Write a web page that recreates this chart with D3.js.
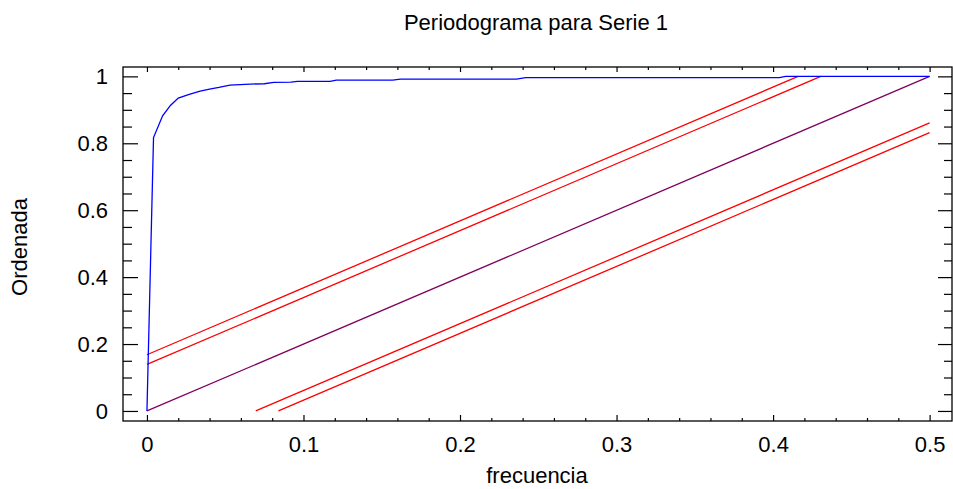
<!DOCTYPE html>
<html>
<head>
<meta charset="utf-8">
<script src="https://cdn.jsdelivr.net/npm/d3@7"></script>
<style>
  body { margin: 0; background: #fff; }
  text { font-family: "Liberation Sans", Arial, sans-serif; fill: #000; }
  .axis .domain { display: none; }
  .axis line { stroke: #000; stroke-width: 1.2; }
</style>
</head>
<body>
<div id="viz"></div>
<script>
var width = 953, height = 489;
var margin = {top: 67, right: 1, bottom: 68, left: 123};

// cumulative periodogram (frecuencia, ordenada)
var freq = [0, 0.0042, 0.010, 0.015, 0.020, 0.027, 0.034, 0.040, 0.046, 0.053, 0.066, 0.075,
            0.081, 0.092, 0.096, 0.117, 0.121, 0.157, 0.162, 0.236, 0.242, 0.404, 0.408, 0.5];
var ordenada = [0, 0.817, 0.882, 0.913, 0.935, 0.946, 0.956, 0.962, 0.967, 0.974, 0.977, 0.978,
                0.982, 0.983, 0.985, 0.985, 0.989, 0.989, 0.992, 0.992, 0.996, 0.996, 1, 1];

// reference diagonal
var diagX = [0, 0.5], diagY = [0, 1];

// Kolmogorov bounds (two levels, upper and lower)
var boundsX = [[0, 0.416], [0, 0.4305], [0.0695, 0.5], [0.084, 0.5]];
var boundsY = [[0.168, 1], [0.139, 1], [0, 0.861], [0, 0.832]];

var xMajor = [0, 0.1, 0.2, 0.3, 0.4, 0.5];
var yMajor = [0, 0.2, 0.4, 0.6, 0.8, 1];

var x = d3.scaleLinear()
  .domain([-0.0153, 0.5143])
  .range([margin.left, width - margin.right]);

var y = d3.scaleLinear()
  .domain([-0.030, 1.028])
  .range([height - margin.bottom, margin.top]);

var xMinor = d3.range(0, 0.5001, 0.02).filter(v => Math.abs(v * 10 - Math.round(v * 10)) > 1e-6);
var yMinor = d3.range(0, 1.0001, 0.05).filter(v => Math.abs(v * 5 - Math.round(v * 5)) > 1e-6);

var svg = d3.select('#viz').append('svg')
  .attr('width', width)
  .attr('height', height);

var fmt = d => d === 0 || d === 1 ? String(d) : d3.format('.1f')(d);

// bottom
svg.append('g').attr('class', 'axis')
  .attr('transform', `translate(0,${height - margin.bottom})`)
  .call(d3.axisBottom(x).tickValues(xMajor).tickSizeInner(-6).tickSizeOuter(0).tickPadding(15).tickFormat(fmt))
  .call(g => g.selectAll('text').attr('font-size', 22).attr('font-family', null));
svg.append('g').attr('class', 'axis')
  .attr('transform', `translate(0,${height - margin.bottom})`)
  .call(d3.axisBottom(x).tickValues(xMinor).tickSizeInner(-3).tickSizeOuter(0).tickFormat(''));

// top
svg.append('g').attr('class', 'axis')
  .attr('transform', `translate(0,${margin.top})`)
  .call(d3.axisTop(x).tickValues(xMajor).tickSizeInner(-5).tickSizeOuter(0).tickFormat(''));
svg.append('g').attr('class', 'axis')
  .attr('transform', `translate(0,${margin.top})`)
  .call(d3.axisTop(x).tickValues(xMinor).tickSizeInner(-3).tickSizeOuter(0).tickFormat(''));

// left
svg.append('g').attr('class', 'axis')
  .attr('transform', `translate(${margin.left},0)`)
  .call(d3.axisLeft(y).tickValues(yMajor).tickSizeInner(-15).tickSizeOuter(0).tickPadding(15).tickFormat(fmt))
  .call(g => g.selectAll('text').attr('font-size', 22).attr('font-family', null));
svg.append('g').attr('class', 'axis')
  .attr('transform', `translate(${margin.left},0)`)
  .call(d3.axisLeft(y).tickValues(yMinor).tickSizeInner(-9).tickSizeOuter(0).tickFormat(''));

// right
svg.append('g').attr('class', 'axis')
  .attr('transform', `translate(${width - margin.right},0)`)
  .call(d3.axisRight(y).tickValues(yMajor).tickSizeInner(-14).tickSizeOuter(0).tickFormat(''));
svg.append('g').attr('class', 'axis')
  .attr('transform', `translate(${width - margin.right},0)`)
  .call(d3.axisRight(y).tickValues(yMinor).tickSizeInner(-8).tickSizeOuter(0).tickFormat(''));

var line = d3.line().x(d => x(d[0])).y(d => y(d[1]));

// bounds
boundsX.forEach(function(bx, i) {
  svg.append('path')
    .datum(d3.zip(bx, boundsY[i]))
    .attr('fill', 'none')
    .attr('stroke', '#ff0000')
    .attr('stroke-width', 1.3)
    .attr('d', line);
});

// diagonal
svg.append('path')
  .datum(d3.zip(diagX, diagY))
  .attr('fill', 'none')
  .attr('stroke', '#800060')
  .attr('stroke-width', 1.3)
  .attr('d', line);

// periodogram
svg.append('path')
  .datum(d3.zip(freq, ordenada))
  .attr('fill', 'none')
  .attr('stroke', '#0000ff')
  .attr('stroke-width', 1.3)
  .attr('d', line);

// frame
svg.append('rect')
  .attr('x', margin.left)
  .attr('y', margin.top)
  .attr('width', width - margin.left - margin.right)
  .attr('height', height - margin.top - margin.bottom)
  .attr('fill', 'none')
  .attr('stroke', '#000')
  .attr('stroke-width', 1.3);

// titles
svg.append('text')
  .attr('x', 536).attr('y', 30)
  .attr('text-anchor', 'middle')
  .attr('font-size', 22)
  .text('Periodograma para Serie 1');

svg.append('text')
  .attr('x', 537).attr('y', 483)
  .attr('text-anchor', 'middle')
  .attr('font-size', 22)
  .text('frecuencia');

svg.append('text')
  .attr('transform', 'translate(27,247) rotate(-90)')
  .attr('text-anchor', 'middle')
  .attr('font-size', 22)
  .text('Ordenada');
</script>
</body>
</html>
